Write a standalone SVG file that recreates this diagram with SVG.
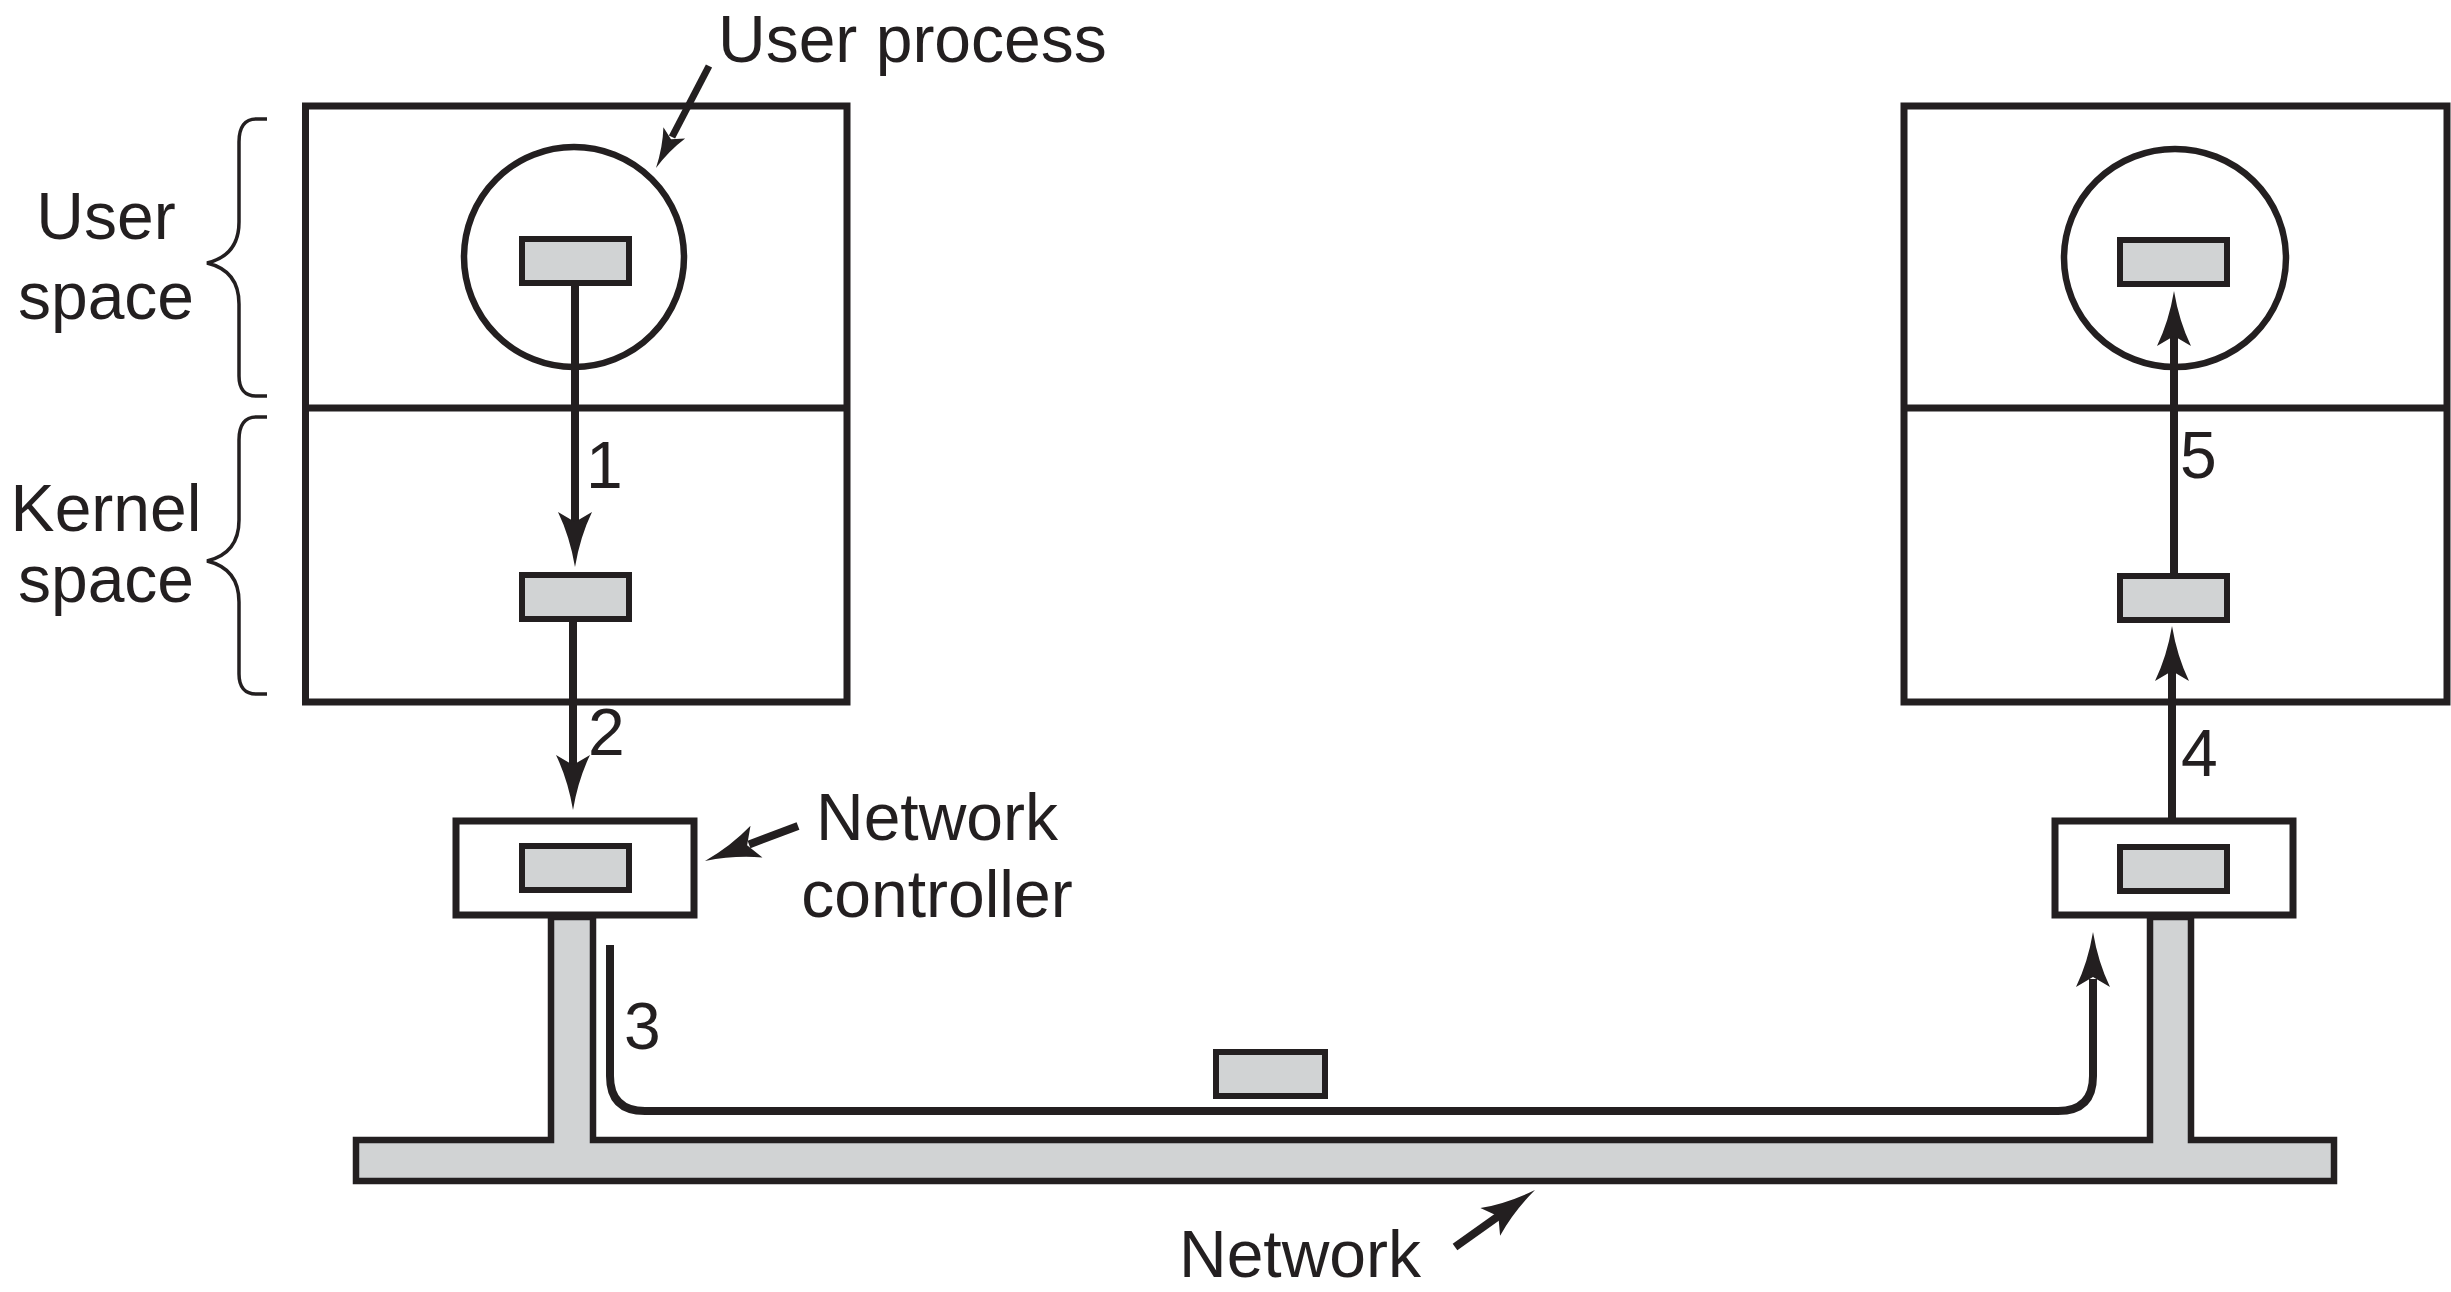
<svg xmlns="http://www.w3.org/2000/svg" xmlns:xlink="http://www.w3.org/1999/xlink" width="2451" height="1292" viewBox="0 0 2451 1292">
<style>
.box{fill:#ffffff;stroke:#231f20;stroke-width:7}
.pkt{fill:#d1d3d4;stroke:#231f20;stroke-width:6}
.proc{fill:none;stroke:#231f20;stroke-width:6.5}
.net{fill:#d1d3d4;stroke:#231f20;stroke-width:6.5;stroke-linejoin:miter}
.ln{fill:none;stroke:#231f20;stroke-width:8}
.brace{fill:none;stroke:#231f20;stroke-width:3.5}
.hd{fill:#231f20;stroke:none}
text{font-family:"Liberation Sans",Arial,sans-serif;font-size:66px;fill:#231f20}
.c{text-anchor:middle}
</style>
<defs>
<path id="head" d="M0,0 Q-30,-5 -55,-17 L-45,0 L-55,17 Q-30,5 0,0 Z"/>
</defs>
<rect width="2451" height="1292" fill="#ffffff"/>

<g id="network">
<path class="net" d="M551,917 V1140 H356 V1181 H2334 V1140 H2191 V917 H2150 V1140 H593 V917 Z"/>
</g>

<g id="sender-host">
<rect class="box" x="305.5" y="106" width="541.5" height="596"/>
<line class="box" x1="305.5" y1="408" x2="847" y2="408"/>
</g>
<g id="sender-process">
<circle class="proc" cx="574" cy="257" r="110"/>
<rect class="pkt" x="522" y="239" width="107" height="44"/>
</g>
<g id="sender-kernel-buffer">
<rect class="pkt" x="522" y="575" width="107" height="44"/>
</g>
<g id="sender-controller">
<rect class="box" x="456" y="821" width="238" height="94"/>
<rect class="pkt" x="522" y="846" width="107" height="44"/>
</g>

<g id="receiver-host">
<rect class="box" x="1904" y="106" width="543" height="596"/>
<line class="box" x1="1904" y1="408" x2="2447" y2="408"/>
</g>
<g id="receiver-process">
<ellipse class="proc" cx="2175" cy="258" rx="111" ry="109"/>
<rect class="pkt" x="2120" y="240" width="107" height="44"/>
</g>
<g id="receiver-kernel-buffer">
<rect class="pkt" x="2120" y="576" width="107" height="44"/>
</g>
<g id="receiver-controller">
<rect class="box" x="2055" y="821" width="238" height="94"/>
<rect class="pkt" x="2120" y="847" width="107" height="44"/>
</g>

<g id="packet-on-wire">
<rect class="pkt" x="1216" y="1052" width="109" height="44"/>
</g>

<g id="connectors">
<line class="ln" x1="575" y1="283" x2="575" y2="524"/>
<use href="#head" class="hd" transform="translate(575,567) rotate(90)"/>
<line class="ln" x1="573" y1="619" x2="573" y2="767"/>
<use href="#head" class="hd" transform="translate(573,810) rotate(90)"/>
<path class="ln" d="M610,945 V1076 Q610,1111 645,1111 H2058 Q2093,1111 2093,1076 V979"/>
<use href="#head" class="hd" transform="translate(2093,932) rotate(-90)"/>
<line class="ln" x1="2172" y1="821" x2="2172" y2="669"/>
<use href="#head" class="hd" transform="translate(2172,626) rotate(-90)"/>
<line class="ln" x1="2174" y1="578" x2="2174" y2="334"/>
<use href="#head" class="hd" transform="translate(2174,291) rotate(-90)"/>
</g>

<g id="label-arrows">
<line class="ln" style="stroke-width:7" x1="709" y1="66" x2="672" y2="137"/>
<use href="#head" class="hd" transform="translate(656,168) rotate(117.5) scale(0.72)"/>
<line class="ln" x1="798" y1="826" x2="749" y2="844.5"/>
<use href="#head" class="hd" transform="translate(705,861) rotate(159.4)"/>
<line class="ln" x1="1455" y1="1247" x2="1500" y2="1215"/>
<use href="#head" class="hd" transform="translate(1535,1190) rotate(-35.5)"/>
</g>

<g id="braces">
<path class="brace" d="M267,119 H256 C245,119 239,127 239,142 V222 C239,245 228,258 207,263 C228,268 239,281 239,304 V376 C239,389 245,396 256,396 H267"/>
<path class="brace" d="M267,417 H256 C245,417 239,425 239,440 V520 C239,543 228,556 207,561 C228,566 239,579 239,602 V674 C239,687 245,694 256,694 H267"/>
</g>

<g id="labels">
<text x="718" y="62">User process</text>
<text class="c" x="106" y="239">User</text>
<text class="c" x="106" y="319">space</text>
<text class="c" x="106" y="531">Kernel</text>
<text class="c" x="106" y="602">space</text>
<text class="c" x="937" y="840">Network</text>
<text class="c" x="937" y="917">controller</text>
<text x="1179" y="1277">Network</text>
<text x="586" y="488">1</text>
<text x="588" y="755">2</text>
<text x="624" y="1049">3</text>
<text x="2181" y="776">4</text>
<text x="2180" y="478">5</text>
</g>
</svg>
